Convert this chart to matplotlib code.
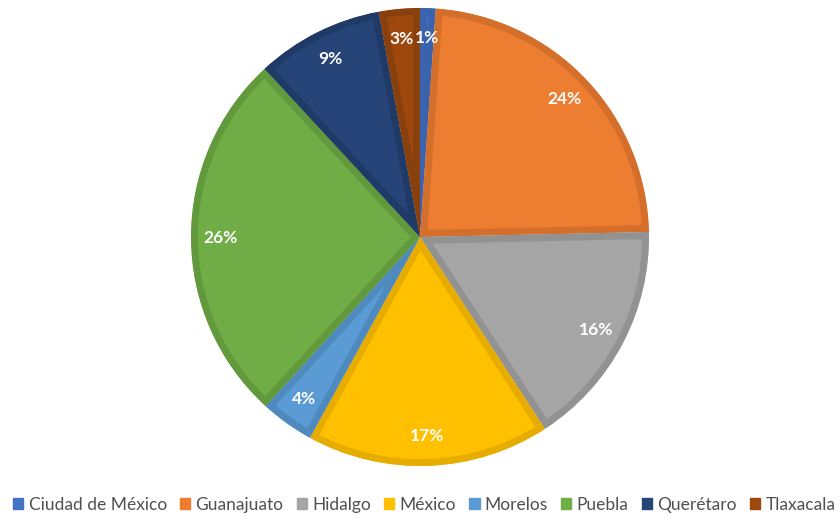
import matplotlib.pyplot as plt
from matplotlib.patches import Patch

estados = ['Ciudad de México', 'Guanajuato', 'Hidalgo', 'México', 'Morelos',
           'Puebla', 'Querétaro', 'Tlaxacala']
porcentajes = [1.1, 23.6, 16.2, 17.2, 3.8, 26.4, 9.0, 2.9]
colores = ['#4472C4', '#ED7D31', '#A5A5A5', '#FFC000', '#5B9BD5', '#70AD47',
           '#264478', '#9E480E']
bordes = ['#3B63AD', '#D36F2A', '#929292', '#E6AC00', '#4F8ABF', '#62993D',
          '#1F3A66', '#88400C']


def main():
    fig = plt.figure(figsize=(8.4, 5.19), dpi=100)
    cx, cy, r = 420, 519 - 237, 229
    ax = fig.add_axes([(cx - r) / 840, (cy - r) / 519, 2 * r / 840, 2 * r / 519])
    wedges, texts, autotexts = ax.pie(
        porcentajes, colors=colores, startangle=90, counterclock=False,
        autopct='%1.0f%%', pctdistance=0.87, radius=1,
        textprops=dict(color='white', fontsize=12.5, fontweight='bold',
                       family=['Lato', 'DejaVu Sans']))
    # darker inner border on every slice, Excel style
    for w, b in zip(wedges, bordes):
        w.set_edgecolor(b)
        w.set_linewidth(10)
        w.set_joinstyle('miter')
        w.set_clip_on(True)
        w.set_clip_path(w)
    ax.set_xlim(-1, 1)
    ax.set_ylim(-1, 1)
    ax.set_aspect('equal')

    handles = [Patch(facecolor=c, edgecolor=c) for c in colores]
    leg = fig.legend(handles, estados, loc='center', bbox_to_anchor=(0.505, 14 / 519),
                     ncol=8, frameon=False, handlelength=0.6, handleheight=0.6,
                     handletextpad=0.3, columnspacing=0.75,
                     prop=dict(family=['Lato', 'DejaVu Sans'], size=12.5))
    for t in leg.get_texts():
        t.set_color('#505050')
    fig.savefig('out.png', dpi=100)


if __name__ == '__main__':
    main()
